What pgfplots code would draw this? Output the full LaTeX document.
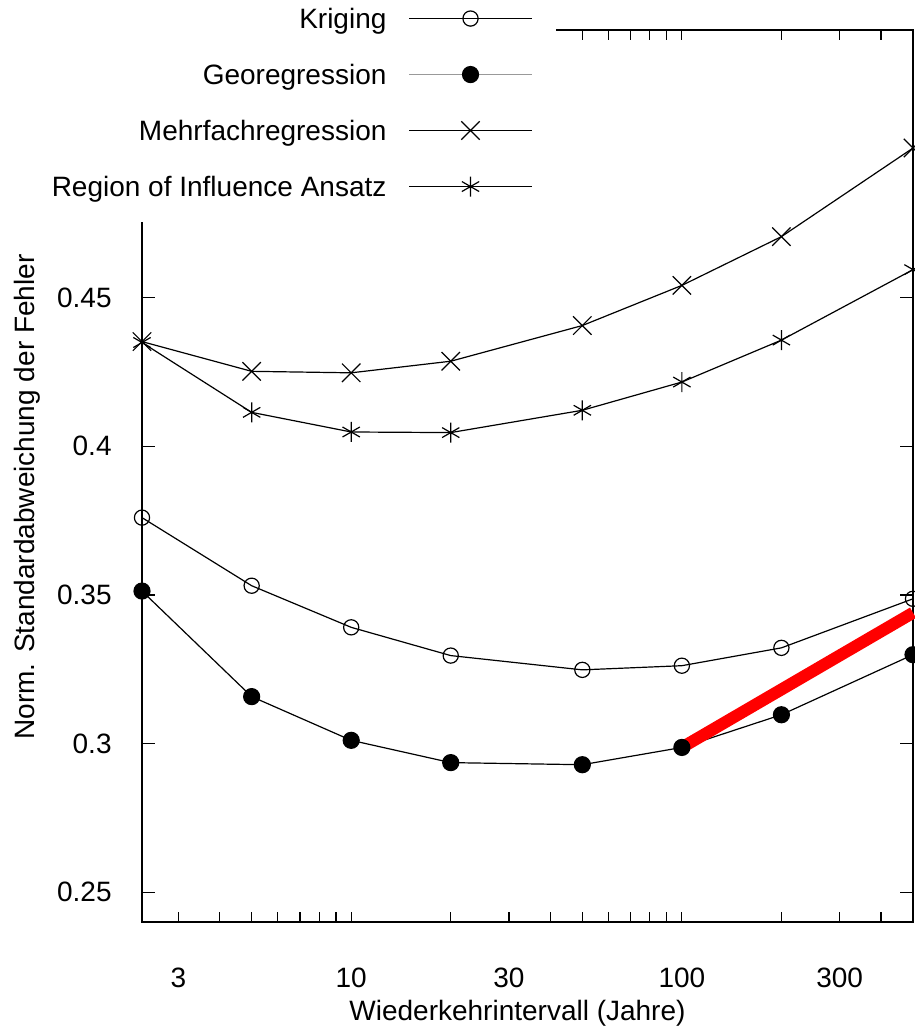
\documentclass[border=0pt]{standalone}
\usepackage{fontspec}
\setmainfont{Liberation Sans}
\usepackage{pgfplots}
\pgfplotsset{compat=1.18}

\begin{document}
\begin{tikzpicture}[font=\fontsize{14pt}{17pt}\selectfont]
\begin{axis}[
  at={(0pt,0pt)}, anchor=south west,
  scale only axis, width=385.5pt, height=446pt,
  xmode=log, xmin=2.33, xmax=500,
  ymin=0.24, ymax=0.54,
  clip=false,
  axis line style={line width=1pt},
  tick style={black, line width=0.6pt},
  tick align=inside,
  major tick length=6.5pt,
  xtick={3,10,30,100,300},
  xticklabels={3,10,30,100,300},
  minor xtick={4,5,6,7,8,9,20,40,50,60,70,80,90,200,400},
  xtick style={/pgfplots/major tick length=5pt, /pgfplots/minor tick length=5pt},
  ytick={0.25,0.3,0.35,0.4,0.45},
  yticklabels={0.25,0.3,0.35,0.4,0.45},
  xticklabel style={inner sep=0pt, anchor=base, yshift=-32.5pt},
  yticklabel style={inner sep=0pt, anchor=east, xshift=-15pt},
  xlabel={Wiederkehrintervall (Jahre)},
  ylabel={Norm. Standardabweichung der Fehler},
  xlabel style={at={(axis description cs:0.487,-0.110)}, anchor=base, inner sep=0pt},
  ylabel style={at={(axis description cs:-0.1388,0.4765)}, anchor=base, inner sep=0pt},
  legend cell align=right,
  legend plot pos=right,
  legend image code/.code={%
    \draw[mark repeat=2, mark phase=2, #1]
      plot coordinates {(0pt,0pt) (30.75pt,0pt) (61.5pt,0pt)};},
  legend style={draw=none, fill=white,
    at={(0.537,0.7848)}, anchor=south east,
    inner xsep=11.5pt, inner ysep=9pt,
    row sep=11pt, column sep=11pt,
    font=\fontsize{14pt}{17pt}\selectfont,
    nodes={inner sep=0pt, text height=13.5pt, text depth=3.5pt}},
]

% Kriging
\addplot[black, line width=0.6pt, mark=o, mark size=3.8pt,
  mark options={line width=0.6pt, fill=none}]
  coordinates {(2.33,0.3760) (5,0.3531) (10,0.3391) (20,0.3296)
               (50,0.3248) (100,0.3262) (200,0.3322) (500,0.3487)};
\addlegendentry{Kriging}

% Georegression
\addplot[black, line width=0.6pt, mark=*, mark size=4pt,
  legend image code/.code={%
    \draw[black!40, line width=0.6pt] (0pt,0pt) -- (61.5pt,0pt);
    \draw[black, mark=*, mark size=4pt] plot coordinates {(30.75pt,0pt)};}]
  coordinates {(2.33,0.3513) (5,0.3158) (10,0.3011) (20,0.2936)
               (50,0.2929) (100,0.2987) (200,0.3097) (500,0.3299)};
\addlegendentry{Georegression}

% Mehrfachregression
\addplot[black, line width=0.6pt, mark=x, mark size=6.5pt,
  mark options={line width=0.6pt}]
  coordinates {(2.33,0.4352) (5,0.4252) (10,0.4247) (20,0.4286)
               (50,0.4406) (100,0.4541) (200,0.4705) (500,0.5003)};
\addlegendentry{Mehrfachregression}

% Region of Influence
\addplot[black, line width=0.6pt, mark=asterisk, mark size=5pt,
  mark options={line width=0.6pt}]
  coordinates {(2.33,0.4349) (5,0.4114) (10,0.4048) (20,0.4046)
               (50,0.4121) (100,0.4216) (200,0.4357) (500,0.4594)};
\addlegendentry{Region of Influence Ansatz}

% highlighted trend
\addplot[red, line width=6pt, line cap=butt, forget plot]
  coordinates {(100,0.2987) (500,0.3440)};

\end{axis}
\pgfresetboundingbox
\useasboundingbox ([xshift=-71pt,yshift=-53pt]current axis.south west)
  rectangle ([xshift=1pt,yshift=15pt]current axis.north east);
\end{tikzpicture}
\end{document}
